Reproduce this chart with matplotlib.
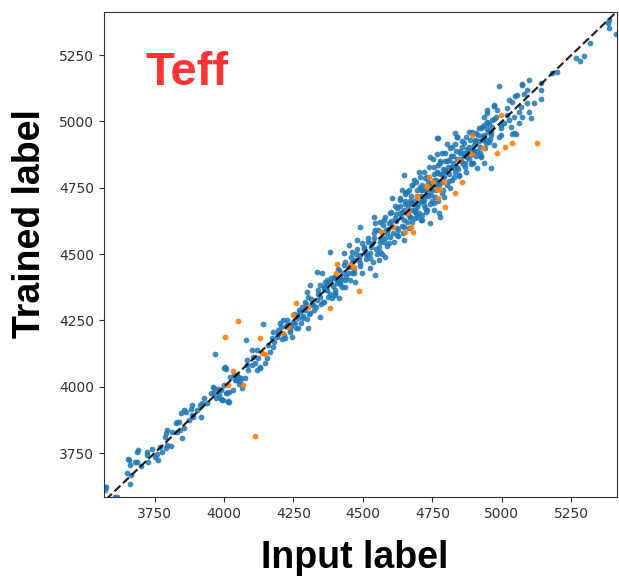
import numpy as np
import matplotlib
matplotlib.use("Agg")
import matplotlib.pyplot as plt

# Teff: labels from the input catalogue vs. labels recovered by the trained model
blue_points = [
    # cool end
    (3572, 3610), (3574, 3621), (3608, 3585), (3614, 3585), (3572, 3623), (3662, 3635),
    (3664, 3667), (3650, 3673), (3680, 3717), (3658, 3723), (3656, 3728), (3662, 3705),
    (3686, 3717), (3688, 3755), (3692, 3761), (3700, 3701), (3722, 3755), (3728, 3717),
    (3724, 3742), (3742, 3764), (3752, 3736), (3760, 3748), (3762, 3723), (3770, 3774),
    (3778, 3755), (3790, 3768), (3788, 3811), (3796, 3780), (3794, 3836), (3790, 3824),
    (3808, 3775), (3814, 3830), (3826, 3862), (3830, 3868), (3838, 3868), (3832, 3830),
    (3842, 3836), (3850, 3805), (3856, 3843), (3845, 3900), (3856, 3912), (3862, 3905),
    (3874, 3874), (3886, 3893), (3890, 3887), (3886, 3931), (3880, 3915), (3916, 3887),
    (3904, 3912), (3914, 3931), (3922, 3937), (3929, 3956), (3940, 3937), (3953, 3975),
    (3959, 4000), (3963, 3996), (3971, 3956), (3965, 3975), (3983, 3968), (3995, 3950),
    (3990, 3952), (3989, 3987), (4001, 4006), (4008, 3975), (4019, 3981), (4019, 3943),
    (4014, 3946), (4003, 4073), (4006, 4066), (4037, 4044), (4043, 4025), (4055, 4012),
    (4061, 4031), (4046, 4044), (4058, 4022), (3968, 4123), (4118, 4063), (4131, 4069),
    (4082, 4081), (3992, 3950), (4010, 3975), (4000, 4069), (4022, 4038), (4040, 4025),
    (4052, 4038), (4064, 3994), (4034, 3988), (4016, 3944), (4076, 4032), (3978, 3990),
    # 4100 - 4450
    (4088, 4063), (4100, 4082), (4082, 4101), (4106, 4113), (4100, 4138), (4118, 4138),
    (4124, 4107), (4112, 4088), (4130, 4076), (4148, 4088), (4154, 4107), (4166, 4132),
    (4160, 4157), (4178, 4151), (4172, 4182), (4178, 4208), (4190, 4189), (4196, 4214),
    (4202, 4239), (4214, 4252), (4226, 4233), (4220, 4182), (4238, 4208), (4244, 4189),
    (4256, 4239), (4262, 4270), (4274, 4283), (4286, 4258), (4280, 4302), (4292, 4321),
    (4304, 4340), (4310, 4277), (4322, 4308), (4334, 4327), (4346, 4264), (4340, 4365),
    (4359, 4371), (4371, 4383), (4346, 4383), (4383, 4396), (4395, 4409), (4407, 4390),
    (4419, 4415), (4401, 4346), (4425, 4377), (4437, 4402), (4310, 4383), (4334, 4434),
    (4139, 4236), (4080, 4176), (4298, 4358), (4413, 4333), (4359, 4321), (4268, 4220),
    (4304, 4220), (4180, 4170), (4195, 4200), (4208, 4180), (4222, 4230), (4236, 4215),
    (4250, 4245), (4265, 4260), (4278, 4240), (4290, 4290), (4305, 4275), (4318, 4310),
    (4330, 4300), (4345, 4340), (4356, 4320), (4368, 4365), (4380, 4350), (4392, 4380),
    (4405, 4400), (4418, 4390), (4428, 4430), (4440, 4415), (4450, 4450), (4460, 4430),
    (4353, 4427), (4371, 4402), (4395, 4415), (4413, 4440), (4359, 4377), (4389, 4333),
    (4371, 4364), (4401, 4352), (4419, 4389), (4437, 4377), (4455, 4402), (4473, 4396),
    (4205, 4225), (4215, 4195), (4228, 4250), (4240, 4228), (4252, 4275), (4258, 4222),
    (4270, 4290), (4283, 4265), (4295, 4310), (4300, 4255), (4312, 4330), (4325, 4290),
    (4338, 4350), (4350, 4310), (4362, 4395), (4375, 4340), (4386, 4410), (4398, 4365),
    (4410, 4445), (4422, 4405), (4432, 4460), (4445, 4430), (4458, 4490), (4468, 4445),
    (4480, 4520), (4486, 4480), (4498, 4540), (4512, 4500),
    # 4450 - 4800
    (4383, 4509), (4431, 4503), (4437, 4471), (4461, 4509), (4473, 4477), (4491, 4465),
    (4497, 4427), (4467, 4427), (4479, 4553), (4489, 4603), (4503, 4528), (4515, 4496),
    (4527, 4484), (4533, 4540), (4539, 4578), (4545, 4616), (4557, 4528), (4563, 4509),
    (4575, 4547), (4587, 4578), (4593, 4616), (4599, 4653), (4605, 4710), (4617, 4635),
    (4623, 4672), (4635, 4704), (4641, 4741), (4647, 4628), (4660, 4735), (4672, 4691),
    (4678, 4760), (4690, 4653), (4696, 4678), (4708, 4741), (4720, 4704), (4714, 4647),
    (4732, 4666), (4744, 4722), (4756, 4691), (4762, 4760), (4774, 4653), (4708, 4628),
    (4623, 4572), (4581, 4490), (4557, 4477), (4527, 4446), (4545, 4421), (4491, 4496),
    (4449, 4534), (4539, 4641), (4575, 4628), (4647, 4553), (4678, 4622),
    (4460, 4470), (4475, 4500), (4490, 4455), (4505, 4520), (4510, 4480), (4520, 4545),
    (4525, 4505), (4535, 4470), (4540, 4560), (4548, 4520), (4555, 4590), (4560, 4545),
    (4568, 4500), (4572, 4610), (4580, 4560), (4585, 4530), (4590, 4595), (4596, 4565),
    (4602, 4625), (4608, 4580), (4612, 4545), (4618, 4650), (4622, 4600), (4628, 4570),
    (4632, 4680), (4638, 4640), (4642, 4605), (4648, 4665), (4652, 4700), (4658, 4620),
    (4664, 4680), (4668, 4640), (4673, 4720), (4678, 4665), (4684, 4700), (4688, 4635),
    (4693, 4740), (4698, 4690), (4703, 4655), (4708, 4720), (4712, 4760), (4717, 4700),
    (4722, 4675), (4726, 4745), (4731, 4790), (4736, 4720), (4740, 4690), (4745, 4765),
    (4750, 4740), (4755, 4800), (4760, 4715), (4764, 4780), (4769, 4835), (4774, 4760),
    (4778, 4800), (4783, 4730), (4788, 4820), (4792, 4790), (4797, 4850), (4802, 4760),
    (4647, 4798), (4665, 4741), (4683, 4779), (4701, 4811), (4707, 4754), (4725, 4785),
    (4731, 4729), (4749, 4767), (4755, 4829), (4767, 4804), (4779, 4842), (4785, 4880),
    (4719, 4685), (4689, 4666), (4755, 4666), (4713, 4628), (4671, 4641), (4791, 4716),
    (4815, 4748), (4647, 4603), (4743, 4616), (4779, 4641), (4635, 4653), (4650, 4728),
    (4518, 4560), (4530, 4525), (4542, 4590), (4550, 4500), (4562, 4620), (4566, 4560),
    (4578, 4640), (4583, 4590), (4594, 4540), (4600, 4660), (4606, 4605), (4615, 4680),
    (4620, 4625), (4626, 4590), (4634, 4710), (4640, 4660), (4645, 4580), (4650, 4690),
    (4656, 4735), (4662, 4650), (4666, 4600), (4670, 4700), (4676, 4760), (4680, 4690),
    (4686, 4660), (4690, 4770), (4695, 4720), (4700, 4640), (4705, 4790), (4710, 4700),
    (4715, 4740), (4720, 4810), (4724, 4720), (4728, 4660), (4734, 4770), (4738, 4830),
    (4742, 4745), (4748, 4700), (4752, 4860), (4757, 4780), (4762, 4740), (4766, 4810),
    (4771, 4700), (4776, 4850), (4780, 4770), (4786, 4800), (4790, 4740),
    # 4800 - 5050
    (4797, 4817), (4809, 4855), (4821, 4905), (4827, 4823), (4839, 4942), (4851, 4880),
    (4863, 4917), (4875, 4867), (4881, 4961), (4893, 4892), (4905, 4930), (4917, 4974),
    (4923, 4880), (4935, 4949), (4948, 4999), (4954, 4924), (4966, 4980), (4978, 5018),
    (4990, 4942), (5008, 4993), (5020, 5024), (5044, 4955), (4960, 4823), (4767, 4936),
    (4833, 4955), (4911, 4823), (4845, 4798), (4869, 4829), (4893, 4842), (4935, 4842),
    (4996, 4974), (4806, 4830), (4811, 4800), (4816, 4870), (4820, 4780), (4825, 4845),
    (4830, 4810), (4835, 4890), (4840, 4830), (4845, 4795), (4850, 4860), (4855, 4905),
    (4860, 4840), (4865, 4880), (4870, 4810), (4875, 4895), (4880, 4860), (4886, 4930),
    (4890, 4875), (4896, 4845), (4900, 4910), (4906, 4955), (4912, 4890), (4918, 4925),
    (4924, 4870), (4930, 4945), (4936, 4985), (4942, 4920), (4950, 4960), (4958, 4935),
    (4770, 4936), (4840, 4942), (4804, 4914), (4743, 4866), (4765, 4876),
    (4795, 4880), (4800, 4810), (4804, 4850), (4808, 4775), (4813, 4900), (4818, 4830),
    (4823, 4870), (4828, 4790), (4833, 4915), (4838, 4860), (4843, 4820), (4848, 4890),
    (4853, 4850), (4858, 4925), (4862, 4870), (4868, 4845), (4872, 4940), (4878, 4880),
    (4883, 4905), (4888, 4840), (4894, 4960), (4898, 4890), (4903, 4925), (4908, 4870),
    (4914, 4950), (4920, 4905), (4926, 4975), (4932, 4930), (4940, 4900), (4946, 4970),
    (4954, 4990), (4962, 4950), (4970, 5010),
    (4948, 5030), (4972, 5057), (4990, 5134), (4972, 5062), (4948, 5043), (4984, 5043),
    (5020, 5049), (4996, 4986), (4966, 5005), (4948, 4993), (4936, 5018), (4930, 4980),
    (4960, 4961), (4972, 4911), (4948, 4930), (4924, 4867), (4996, 4949), (5032, 4980),
    (5026, 5005), (5044, 5018), (5062, 4993), (5038, 4953), (5050, 4953),
    # hot end
    (5068, 5056), (5092, 5068), (5062, 5037), (5098, 5037), (5074, 5018), (5104, 5012),
    (5026, 5081), (5038, 5074), (5046, 5095), (5056, 5100), (5078, 5103), (5074, 5137),
    (5098, 5158), (5074, 5141), (5092, 5118), (5140, 5120), (5140, 5145), (5140, 5083),
    (5114, 5070), (5182, 5181), (5198, 5188), (5267, 5238), (5282, 5229), (5297, 5247),
    (5318, 5294), (5381, 5370), (5385, 5382), (5387, 5351), (5410, 5331),
]

orange_points = [
    (4113, 3814), (4034, 4060), (4013, 4006), (4070, 4006), (4136, 4126), (4146, 4123),
    (4049, 4248), (4002, 4189), (4128, 4182), (4212, 4201), (4232, 4224), (4248, 4270),
    (4260, 4317), (4301, 4302), (4383, 4296), (4404, 4427), (4485, 4362), (4405, 4462),
    (4453, 4459), (4467, 4450), (4566, 4584), (4609, 4601), (4650, 4584), (4681, 4584),
    (4674, 4601), (4657, 4656), (4662, 4663), (4696, 4716), (4729, 4756), (4768, 4744),
    (4737, 4792), (4791, 4773), (4830, 4729), (4857, 4773), (4845, 4855), (4893, 4949),
    (4984, 4882), (5010, 4902), (5038, 4917), (4998, 5024), (4795, 4679), (4777, 4741),
    (4933, 4898), (4888, 4877), (5126, 4920), (4753, 4772), (4731, 4751), (4569, 4584),
    (4695, 4719), (4770, 4712),
]

axis_min, axis_max = 3575, 5412
ticks = [3750, 4000, 4250, 4500, 4750, 5000, 5250]

blue = np.array(blue_points, dtype=float)
orange = np.array(orange_points, dtype=float)

label_font = ["Liberation Sans", "DejaVu Sans"]

fig = plt.figure(figsize=(6.19, 5.78), dpi=100)
ax = fig.add_axes([0.168, 0.140, 0.829, 0.839])

ax.scatter(blue[:, 0], blue[:, 1], s=17, color="#1f77b4", alpha=0.85,
           linewidths=0, zorder=2)
ax.scatter(orange[:, 0], orange[:, 1], s=17, color="#ff7f0e", alpha=0.9,
           linewidths=0, zorder=3)
ax.plot([axis_min, axis_max], [axis_min, axis_max], "k--", lw=1.6, alpha=0.85,
        zorder=4)

ax.set_xlim(axis_min - 7, axis_max + 3)
ax.set_ylim(axis_min + 9, axis_max)
ax.set_xticks(ticks)
ax.set_yticks(ticks)
ax.tick_params(labelsize=10, colors="#333333")
for s in ax.spines.values():
    s.set_color("#333333")

ax.set_xlabel("Input label", fontsize=27, fontweight="bold", family=label_font,
              labelpad=14)
ax.set_ylabel("Trained label", fontsize=27, fontweight="bold", family=label_font,
              labelpad=8)
ax.xaxis.label.set_x(0.488)
ax.yaxis.label.set_y(0.565)
ax.text(0.080, 0.849, "Teff", transform=ax.transAxes, fontsize=34,
        fontweight="bold", color="#fe3333", family=label_font)

fig.savefig("out.png", dpi=100)
